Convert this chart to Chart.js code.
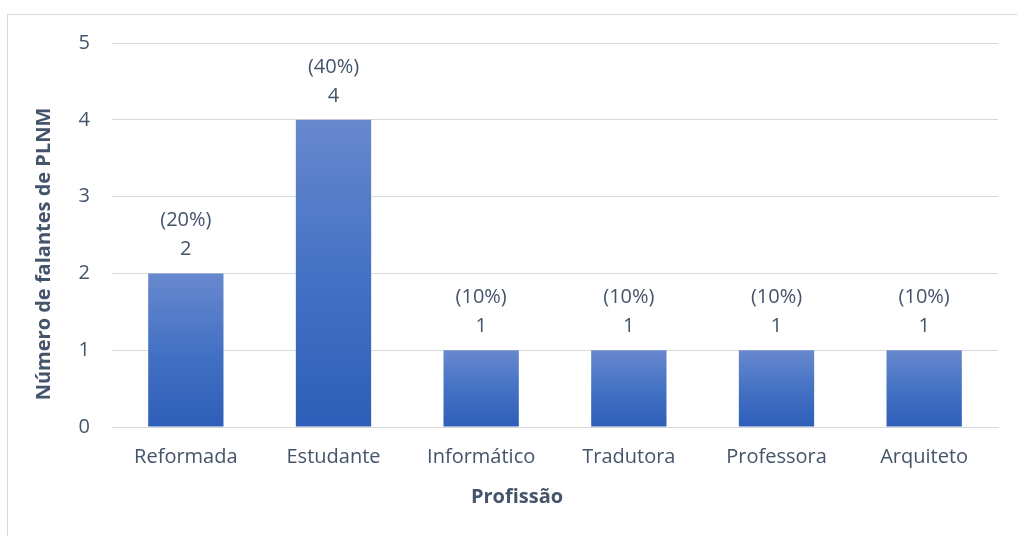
<!DOCTYPE html>
<html>
<head>
<meta charset="utf-8">
<script src="https://cdn.jsdelivr.net/npm/chart.js@4"></script>
<style>
  html, body { margin: 0; padding: 0; background: #ffffff; }
  #wrap { width: 1017px; height: 536px; position: relative; }
</style>
</head>
<body>
<div id="wrap"><canvas id="c" width="1017" height="536"></canvas></div>
<script>
const categories = ['Reformada', 'Estudante', 'Informático', 'Tradutora', 'Professora', 'Arquiteto'];
const speakers = [2, 4, 1, 1, 1, 1];
const yTicks = [0, 1, 2, 3, 4, 5];
const xTitle = 'Profissão';
const yTitle = 'Número de falantes de PLNM';

const textColor = '#44546A';
const gridColor = '#D9D9D9';
const fontFamily = '"Open Sans", sans-serif';
const fontSize = 20;
const total = speakers.reduce((a, b) => a + b, 0);

// vertical gradient spanning each bar from its top to the baseline
function barFill(ctx) {
  const chart = ctx.chart;
  const y = chart.scales.y;
  if (!y || ctx.raw === undefined) return '#4472C4';
  const top = y.getPixelForValue(ctx.raw);
  const base = y.getPixelForValue(0);
  if (!isFinite(top) || !isFinite(base) || top === base) return '#4472C4';
  const g = chart.ctx.createLinearGradient(0, top, 0, base);
  g.addColorStop(0, '#6888CE');
  g.addColorStop(0.5, '#4472C4');
  g.addColorStop(1, '#2E5EB8');
  return g;
}

// frame around the whole chart
const framePlugin = {
  id: 'frame',
  beforeDraw(chart) {
    const c = chart.ctx;
    c.save();
    c.strokeStyle = '#D9D9D9';
    c.lineWidth = 1;
    c.strokeRect(7.5, 14.5, 1100, 600);
    c.restore();
  }
};

// value and share written above each bar
const labelPlugin = {
  id: 'barLabels',
  afterDatasetsDraw(chart) {
    const c = chart.ctx;
    const meta = chart.getDatasetMeta(0);
    c.save();
    c.fillStyle = textColor;
    c.font = fontSize + 'px ' + fontFamily;
    c.textAlign = 'center';
    c.textBaseline = 'middle';
    meta.data.forEach((bar, i) => {
      const v = speakers[i];
      const pct = Math.round(v / total * 100);
      c.fillText(String(v), bar.x, bar.y - 24);
      c.fillText('(' + pct + '%)', bar.x, bar.y - 53);
    });
    c.restore();
  }
};

// axis titles
const titlePlugin = {
  id: 'axisTitles',
  afterDraw(chart) {
    const c = chart.ctx;
    c.save();
    c.fillStyle = textColor;
    c.font = 'bold ' + fontSize + 'px ' + fontFamily;
    c.textAlign = 'center';
    c.textBaseline = 'middle';
    c.fillText(xTitle, 517, 497);
    c.translate(44, 254);
    c.rotate(-Math.PI / 2);
    c.fillText(yTitle, 0, 0);
    c.restore();
  }
};

new Chart(document.getElementById('c'), {
  type: 'bar',
  data: {
    labels: categories,
    datasets: [{
      data: speakers,
      backgroundColor: barFill,
      borderWidth: 0,
      categoryPercentage: 1.0,
      barPercentage: 0.51
    }]
  },
  options: {
    responsive: false,
    animation: false,
    devicePixelRatio: 1,
    layout: { padding: { top: 43, right: 19, left: 0, bottom: 0 } },
    plugins: {
      legend: { display: false },
      tooltip: { enabled: false }
    },
    scales: {
      x: {
        grid: { display: false, drawTicks: false },
        border: { display: true, color: gridColor, width: 1 },
        ticks: {
          color: textColor,
          font: { family: fontFamily, size: fontSize },
          padding: 18,
          maxRotation: 0
        },
        afterFit(scale) { scale.height = 109; }
      },
      y: {
        min: 0,
        max: 5,
        afterBuildTicks(scale) { scale.ticks = yTicks.map(v => ({ value: v })); },
        grid: { color: gridColor, lineWidth: 1, drawTicks: false },
        border: { display: false },
        ticks: {
          color: textColor,
          font: { family: fontFamily, size: fontSize },
          padding: 22
        },
        afterFit(scale) { scale.width = 112; }
      }
    }
  },
  plugins: [framePlugin, labelPlugin, titlePlugin]
});
</script>
</body>
</html>
